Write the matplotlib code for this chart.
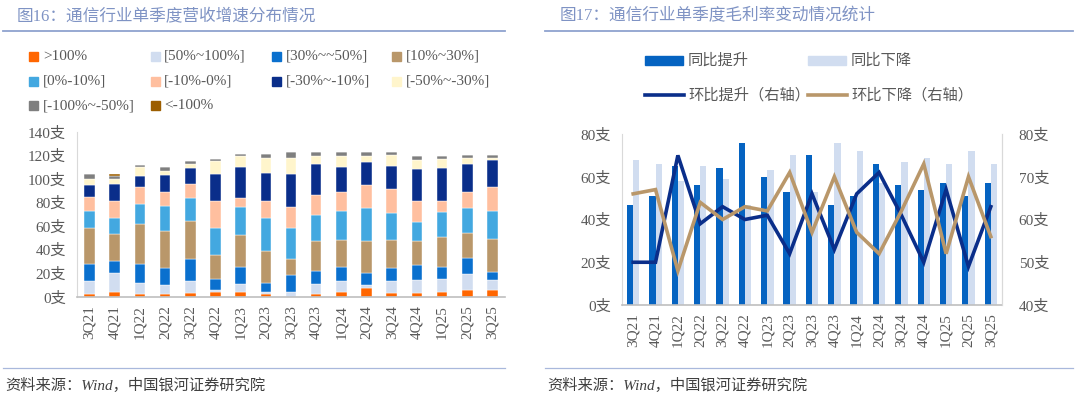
import matplotlib
matplotlib.use("Agg")
import matplotlib.pyplot as plt
from matplotlib.patches import Rectangle
from matplotlib.lines import Line2D
import numpy as np

plt.rcParams['font.family'] = ['Liberation Serif', 'Noto Sans CJK SC', 'DejaVu Sans']

quarters = ["3Q21", "4Q21", "1Q22", "2Q22", "3Q22", "4Q22", "1Q23", "2Q23", "3Q23",
            "4Q23", "1Q24", "2Q24", "3Q24", "4Q24", "1Q25", "2Q25", "3Q25"]

# Left chart: revenue growth distribution (count of companies), bottom to top
seg_labels = [">100%", "[50%~100%]", "[30%~~50%]", "[10%~30%]", "[0%-10%]",
              "[-10%-0%]", "[-30%~-10%]", "[-50%~-30%]", "[-100%~-50%]", "<-100%"]
gt100    = [2, 4, 2, 2, 3, 4, 4, 2, 0, 2, 4, 7, 3, 3, 4, 6, 6]
p50_100  = [11, 16, 10, 8, 10, 2, 7, 2, 4, 9, 9, 3, 10, 11, 11, 13, 8]
p30_50   = [15, 10, 16, 14, 19, 9, 14, 8, 14, 11, 12, 10, 11, 13, 10, 14, 7]
p10_30   = [30, 23, 34, 32, 32, 20, 27, 27, 14, 25, 23, 27, 24, 20, 26, 21, 28]
p0_10    = [15, 14, 17, 21, 20, 23, 24, 28, 26, 22, 25, 28, 23, 16, 21, 21, 24]
n10_0    = [12, 14, 14, 12, 12, 23, 8, 14, 18, 17, 16, 20, 20, 18, 9, 14, 20]
n30_10   = [10, 15, 9, 14, 13, 23, 26, 24, 28, 27, 21, 19, 20, 27, 28, 24, 23]
n50_30   = [5, 4, 8, 4, 4, 11, 9, 13, 14, 6, 9, 5, 9, 8, 8, 5, 2]
n100_50  = [4, 2, 2, 3, 2, 2, 2, 3, 5, 4, 4, 4, 3, 3, 2, 2, 2]
lt100    = [0, 2, 0, 0, 0, 0, 0, 0, 0, 0, 0, 0, 0, 0, 0, 0, 0]
seg_values = [gt100, p50_100, p30_50, p10_30, p0_10, n10_0, n30_10, n50_30, n100_50, lt100]
seg_colors = ["#FF6600", "#D1DDF0", "#0A70CE", "#B9976A", "#43A8E0",
              "#FFBF9F", "#0A2E8A", "#FFF5CC", "#7F7F7F", "#9C5E00"]

# Right chart: gross margin changes
bar_labels = ["同比提升", "同比下降"]
yoy_up   = [47, 51, 65, 56, 64, 76, 60, 53, 70, 47, 51, 66, 56, 54, 57, 51, 57]
yoy_down = [68, 66, 58, 65, 59, 47, 63, 70, 53, 76, 72, 57, 67, 69, 66, 72, 66]
line_labels = ["环比提升（右轴）", "环比下降（右轴）"]
qoq_up   = [50, 50, 75, 59, 63, 60, 61, 52, 66, 53, 66, 71, 61, 50, 67, 49, 63]
qoq_down = [66, 67, 48, 64, 60, 63, 62, 71, 57, 70, 57, 52, 62, 73, 52, 70, 56]

left_ticks = [0, 20, 40, 60, 80, 100, 120, 140]
right_lticks = [0, 20, 40, 60, 80]
right_rticks = [40, 50, 60, 70, 80]

W, H = 1080, 396
fig = plt.figure(figsize=(W / 100, H / 100), dpi=100)

def fx(px):
    return px / W

def fy(py):
    return 1 - py / H

tick_color = "#595959"
title_color = "#7F93C4"
rule_color = "#8FA2CF"
fs = 11

# ---- titles, rules, sources ----
fig.text(fx(17), fy(16), "图16：通信行业单季度营收增速分布情况", fontsize=12,
         color=title_color, va="center", ha="left")
fig.text(fx(560), fy(16), "图17：通信行业单季度毛利率变动情况统计", fontsize=12,
         color=title_color, va="center", ha="left")
for x0, x1 in [(3, 505), (545, 1073)]:
    fig.add_artist(Line2D([fx(x0), fx(x1)], [fy(31), fy(31)], color=rule_color, lw=1.3))
    fig.add_artist(Line2D([fx(x0), fx(x1)], [fy(368), fy(368)], color="#A9B8DC", lw=0.9))
fig.text(fx(5), fy(385), "资料来源：Wind，中国银河证券研究院", fontsize=11,
         color="#404040", va="center", ha="left", style="italic")
fig.text(fx(547), fy(385), "资料来源：Wind，中国银河证券研究院", fontsize=11,
         color="#404040", va="center", ha="left", style="italic")

# ---- left chart ----
ax1 = fig.add_axes([fx(77), fy(296.7), fx(505) - fx(77), fy(131.7) - fy(296.7)])
x = np.arange(len(quarters))
bottom = np.zeros(len(quarters))
for vals, col in zip(seg_values, seg_colors):
    v = np.array(vals, dtype=float)
    ax1.bar(x, v, 0.42, bottom=bottom, color=col, edgecolor="white", linewidth=0.3)
    bottom += v
ax1.set_xlim(-0.5, len(quarters) - 0.5)
ax1.set_ylim(0, 140)
ax1.set_yticks(left_ticks)
ax1.set_yticklabels([f"{t}支" for t in left_ticks])
ax1.set_xticks(x)
ax1.set_xticklabels(quarters, rotation=90)
ax1.tick_params(axis="both", length=0, labelsize=fs, colors=tick_color)
ax1.tick_params(axis="y", pad=8)
ax1.tick_params(axis="x", pad=6)
for s in ["top", "right"]:
    ax1.spines[s].set_visible(False)
ax1.spines["left"].set_color("#D9D9D9")
ax1.spines["bottom"].set_color("#BFBFBF")
ax1.spines["bottom"].set_linewidth(1.2)

# left legend (manual grid, 4 columns)
col_sq = [29, 150.5, 271.5, 391.5]
col_tx = [43, 164, 286, 406]
row_y = [56.5, 81, 105.5]
for i, (lab, col) in enumerate(zip(seg_labels, seg_colors)):
    c, r = i % 4, i // 4
    fig.add_artist(Rectangle((fx(col_sq[c]), fy(row_y[r] + 4.5)), fx(9), 9 / H,
                             color=col, transform=fig.transFigure))
    fig.text(fx(col_tx[c]), fy(row_y[r]), lab, fontsize=fs, color=tick_color,
             va="center", ha="left")

# ---- right chart ----
ax2 = fig.add_axes([fx(622), fy(305), fx(1002) - fx(622), fy(134) - fy(305)])
bw = 0.28
ax2.bar(x - bw / 2, yoy_up, bw, color="#0563C1")
ax2.bar(x + bw / 2, yoy_down, bw, color="#D1DDF0")
ax2.set_xlim(-0.5, len(quarters) - 0.5)
ax2.set_ylim(0, 80)
ax2.set_yticks(right_lticks)
ax2.set_yticklabels([f"{t}支" for t in right_lticks])
ax2.set_xticks(x)
ax2.set_xticklabels(quarters, rotation=90)
ax2.tick_params(axis="both", length=0, labelsize=fs, colors=tick_color)
ax2.tick_params(axis="y", pad=8)
ax2.tick_params(axis="x", pad=6)
ax2.spines["top"].set_visible(False)
ax2.spines["left"].set_color("#D9D9D9")
ax2.spines["right"].set_color("#D9D9D9")
ax2.spines["bottom"].set_color("#BFBFBF")
ax2.spines["bottom"].set_linewidth(1.2)

ax3 = ax2.twinx()
ax3.plot(x, qoq_up, color="#0A2E8A", lw=2.6, solid_joinstyle="miter")
ax3.plot(x, qoq_down, color="#B9976A", lw=2.6, solid_joinstyle="miter")
ax3.set_ylim(40, 80)
ax3.set_yticks(right_rticks)
ax3.set_yticklabels([f"{t}支" for t in right_rticks])
ax3.tick_params(axis="y", length=0, labelsize=fs, colors=tick_color, pad=12)
for s in ["top", "left", "bottom"]:
    ax3.spines[s].set_visible(False)
ax3.spines["right"].set_color("#D9D9D9")

# right legend (manual)
fig.add_artist(Rectangle((fx(645), fy(65)), fx(38), 9 / H, color="#0563C1",
                         transform=fig.transFigure))
fig.text(fx(688), fy(60.7), bar_labels[0], fontsize=fs, color=tick_color, va="center")
fig.add_artist(Rectangle((fx(808), fy(65)), fx(38), 9 / H, color="#D1DDF0",
                         transform=fig.transFigure))
fig.text(fx(851), fy(60.7), bar_labels[1], fontsize=fs, color=tick_color, va="center")
fig.add_artist(Line2D([fx(645), fx(684)], [fy(95), fy(95)], color="#0A2E8A", lw=2.6))
fig.text(fx(688), fy(95), line_labels[0], fontsize=fs, color=tick_color, va="center")
fig.add_artist(Line2D([fx(808), fx(847)], [fy(95), fy(95)], color="#B9976A", lw=2.6))
fig.text(fx(851), fy(95), line_labels[1], fontsize=fs, color=tick_color, va="center")

fig.savefig("out.png", dpi=100)
